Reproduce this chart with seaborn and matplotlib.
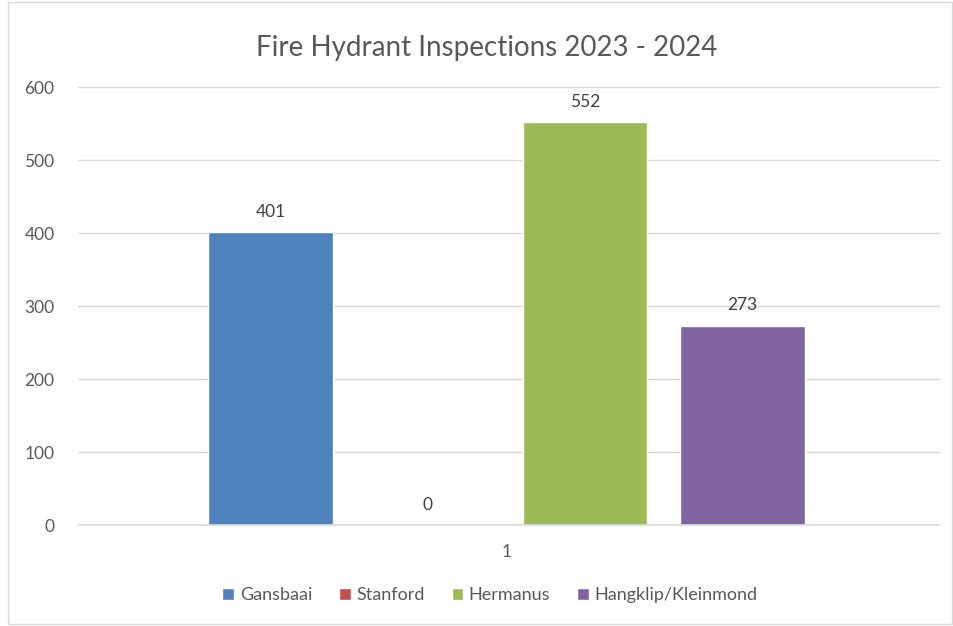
import matplotlib
matplotlib.use("Agg")
import matplotlib.pyplot as plt
import pandas as pd
import seaborn as sns
from matplotlib.patches import Rectangle

sites = ["Gansbaai", "Stanford", "Hermanus", "Hangklip/Kleinmond"]
inspections = [401, 0, 552, 273]
category = ["1", "1", "1", "1"]
colors = ["#4F81BD", "#C0504D", "#9BBB59", "#8064A2"]
yticks = [0, 100, 200, 300, 400, 500, 600]

df = pd.DataFrame({"cat": category, "site": sites, "count": inspections})

sns.set_theme(style="white")
plt.rcParams["font.family"] = ["Lato", "DejaVu Sans"]
grey = "#595959"

fig = plt.figure(figsize=(9.54, 6.26), dpi=100)
ax = fig.add_axes([0.0818, 0.1613, 0.9035, 0.6997])

sns.barplot(data=df, x="cat", y="count", hue="site", hue_order=sites,
            palette=colors, width=0.73, gap=0.21, ax=ax, legend=True,
            saturation=1)

ax.set_ylim(0, 600)
ax.set_xlim(-0.497, 0.503)
ax.set_yticks(yticks)
ax.yaxis.grid(True, color="#D9D9D9", linewidth=1)
ax.set_axisbelow(True)
for s in ["top", "right", "left"]:
    ax.spines[s].set_visible(False)
ax.spines["bottom"].set_color("#D9D9D9")
ax.spines["bottom"].set_linewidth(1.2)
ax.tick_params(axis="both", length=0, labelsize=12.5, colors=grey)
ax.tick_params(axis="x", pad=14)
ax.tick_params(axis="y", pad=17)
ax.set_xlabel("")
ax.set_ylabel("")

for cont in ax.containers:
    ax.bar_label(cont, fmt="%d", padding=9, fontsize=12.5, color="#404040")

ax.set_title("Fire Hydrant Inspections 2023 - 2024", fontsize=20,
             color=grey, pad=22, x=0.474)

ax.legend(loc="upper center", bbox_to_anchor=(0.478, -0.105), ncol=4,
          frameon=False, fontsize=13, handlelength=0.65, handleheight=0.65,
          handletextpad=0.3, columnspacing=1.5, labelcolor=grey)

fig.patches.append(Rectangle((8 / 954, 2 / 626), 944 / 954, 622 / 626,
                             transform=fig.transFigure, fill=False,
                             edgecolor="#D9D9D9", linewidth=1))

fig.savefig("out.png", dpi=100)
